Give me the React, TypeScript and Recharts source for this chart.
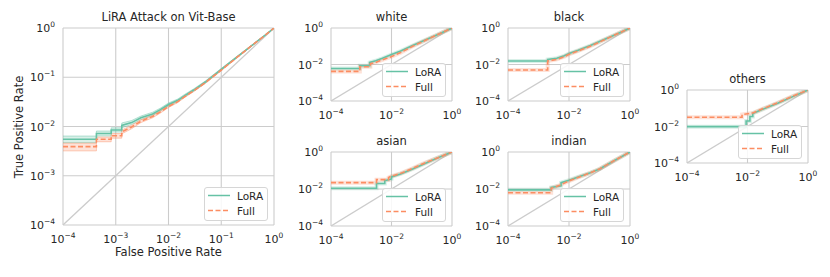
import { ComposedChart, Line, Area, XAxis, YAxis, CartesianGrid } from 'recharts';

const GREEN = '#66c2a5';
const ORANGE = '#fc8d62';
const GRID = '#cccccc';
const TEXT = '#262626';
const FONT = '"DejaVu Sans", Verdana, sans-serif';

// axis ticks
const mainTicks = [1e-4, 1e-3, 1e-2, 1e-1, 1];
const mainTickExp = ['\u22124', '\u22123', '\u22122', '\u22121', '0'];
const smallTicks = [1e-4, 1e-2, 1];
const smallTickExp = ['\u22124', '\u22122', '0'];

// chance line
const diagFpr = [1e-4, 1];
const diagTpr = [1e-4, 1];

// main panel: LiRA on ViT-Base
const mainLoraFpr = [1e-4, 4.3e-4, 4.3e-4, 8.2e-4, 8.2e-4, 1.3e-3, 1.3e-3, 2e-3, 3e-3, 5e-3, 7e-3, 1e-2, 1.5e-2, 2e-2, 3e-2, 5e-2, 0.1, 0.2, 0.4, 0.7, 1];
const mainLoraTpr = [0.0055, 0.0055, 0.0072, 0.0072, 0.0085, 0.0085, 0.0105, 0.012, 0.015, 0.018, 0.022, 0.028, 0.034, 0.042, 0.055, 0.08, 0.145, 0.26, 0.46, 0.73, 1];
const mainLoraLo = [0.0047, 0.0047, 0.0064, 0.0064, 0.0077, 0.0077, 0.0094, 0.011, 0.0138, 0.0166, 0.0205, 0.026, 0.0318, 0.0395, 0.052, 0.076, 0.139, 0.252, 0.45, 0.72, 1];
const mainLoraHi = [0.0064, 0.0064, 0.0081, 0.0081, 0.0094, 0.0094, 0.0118, 0.0132, 0.0163, 0.0195, 0.0236, 0.03, 0.0362, 0.0446, 0.058, 0.084, 0.151, 0.268, 0.47, 0.74, 1];

const mainFullFpr = [1e-4, 4.3e-4, 4.3e-4, 8.2e-4, 8.2e-4, 1.3e-3, 1.3e-3, 2e-3, 3e-3, 5e-3, 7e-3, 1e-2, 1.5e-2, 2e-2, 3e-2, 5e-2, 0.1, 0.2, 0.4, 0.7, 1];
const mainFullTpr = [0.0039, 0.0039, 0.0055, 0.0055, 0.0065, 0.0065, 0.0078, 0.0098, 0.0128, 0.016, 0.0198, 0.0255, 0.032, 0.04, 0.053, 0.078, 0.14, 0.255, 0.46, 0.73, 1];
const mainFullLo = [0.0032, 0.0032, 0.0049, 0.0049, 0.0058, 0.0058, 0.0071, 0.009, 0.012, 0.015, 0.0187, 0.0243, 0.0306, 0.0385, 0.051, 0.075, 0.135, 0.248, 0.45, 0.72, 1];
const mainFullHi = [0.0046, 0.0046, 0.0061, 0.0061, 0.0072, 0.0072, 0.0085, 0.0106, 0.0137, 0.017, 0.021, 0.0268, 0.0334, 0.0415, 0.055, 0.081, 0.145, 0.262, 0.47, 0.74, 1];

// subgroups
const whiteLoraFpr = [1e-4, 9e-4, 9e-4, 1.9e-3, 1.9e-3, 3e-3, 5e-3, 1e-2, 2e-2, 5e-2, 0.1, 0.3, 1];
const whiteLoraTpr = [0.006, 0.006, 0.0085, 0.0085, 0.013, 0.016, 0.022, 0.035, 0.055, 0.11, 0.18, 0.4, 1];
const whiteFullFpr = [1e-4, 9e-4, 9e-4, 2e-3, 2e-3, 3e-3, 5e-3, 1e-2, 2e-2, 5e-2, 0.1, 0.3, 1];
const whiteFullTpr = [0.0042, 0.0042, 0.0075, 0.0075, 0.011, 0.013, 0.018, 0.027, 0.045, 0.1, 0.17, 0.4, 1];

const blackLoraFpr = [1e-4, 2e-3, 2e-3, 4e-3, 7e-3, 1e-2, 2e-2, 5e-2, 0.1, 0.3, 1];
const blackLoraTpr = [0.0155, 0.0155, 0.019, 0.022, 0.03, 0.04, 0.06, 0.11, 0.18, 0.4, 1];
const blackFullFpr = [1e-4, 2e-3, 2e-3, 4e-3, 7e-3, 1e-2, 2e-2, 5e-2, 0.1, 0.3, 1];
const blackFullTpr = [0.005, 0.005, 0.0155, 0.019, 0.027, 0.036, 0.055, 0.1, 0.17, 0.4, 1];

const asianLoraFpr = [1e-4, 3.2e-3, 3.2e-3, 6e-3, 6e-3, 1e-2, 1e-2, 2e-2, 5e-2, 0.1, 0.3, 1];
const asianLoraTpr = [0.011, 0.011, 0.02, 0.02, 0.028, 0.035, 0.045, 0.065, 0.12, 0.2, 0.45, 1];
const asianFullFpr = [1e-4, 3.2e-3, 3.2e-3, 8e-3, 8e-3, 1e-2, 2e-2, 5e-2, 0.1, 0.3, 1];
const asianFullTpr = [0.022, 0.022, 0.032, 0.032, 0.042, 0.05, 0.07, 0.13, 0.22, 0.45, 1];

const indianLoraFpr = [1e-4, 2.6e-3, 2.6e-3, 5.5e-3, 5.5e-3, 1e-2, 2e-2, 5e-2, 0.1, 0.3, 1];
const indianLoraTpr = [0.009, 0.009, 0.012, 0.015, 0.022, 0.03, 0.045, 0.075, 0.12, 0.34, 1];
const indianFullFpr = [1e-4, 2.6e-3, 2.6e-3, 5e-3, 1e-2, 2e-2, 5e-2, 0.1, 0.3, 1];
const indianFullTpr = [0.0063, 0.0063, 0.011, 0.016, 0.027, 0.042, 0.075, 0.12, 0.34, 1];

const othersLoraFpr = [1e-4, 9e-3, 9e-3, 1.2e-2, 1.2e-2, 1.5e-2, 1.5e-2, 3e-2, 0.1, 0.3, 1];
const othersLoraTpr = [0.0098, 0.0098, 0.02, 0.02, 0.035, 0.035, 0.052, 0.085, 0.19, 0.42, 1];
const othersFullFpr = [1e-4, 6.6e-3, 6.6e-3, 1.5e-2, 3e-2, 0.1, 0.3, 1];
const othersFullTpr = [0.032, 0.032, 0.045, 0.055, 0.09, 0.2, 0.45, 1];

type Row = { x: number; y: number; band?: [number, number] };

const toRows = (xs: number[], ys: number[], lo?: number[], hi?: number[]): Row[] =>
  xs.map((x, i) => ({ x, y: ys[i], band: lo && hi ? [lo[i], hi[i]] : undefined }));

const diagRows = toRows(diagFpr, diagTpr);

function makeTick(ticks: number[], exps: string[], axis: 'x' | 'y') {
  return (props: any) => {
    const { x, y, payload } = props;
    const exp = exps[ticks.indexOf(payload.value)] ?? '';
    const isX = axis === 'x';
    return (
      <text
        x={x}
        y={isX ? y + 10 : y + 4}
        textAnchor={isX ? 'middle' : 'end'}
        fill={TEXT}
        fontFamily={FONT}
        fontSize={11}
      >
        <tspan>10</tspan>
        <tspan dy={-5} fontSize={7.5}>{exp}</tspan>
      </text>
    );
  };
}

function LegendBox({ left, top }: { left: number; top: number }) {
  return (
    <div
      style={{
        position: 'absolute',
        left,
        top,
        width: 64,
        height: 34,
        boxSizing: 'border-box',
        border: '1px solid #d6d6d6',
        borderRadius: 3,
        background: 'rgba(255,255,255,0.85)',
      }}
    >
      <svg width={62} height={32} style={{ display: 'block' }}>
        <line x1={3} x2={25} y1={7.5} y2={7.5} stroke={GREEN} strokeWidth={1.5} />
        <text x={32} y={11.5} fontSize={10.5} fontFamily={FONT} fill={TEXT}>LoRA</text>
        <line x1={3} x2={25} y1={22.5} y2={22.5} stroke={ORANGE} strokeWidth={1.5} strokeDasharray="5 2.5" />
        <text x={32} y={26.5} fontSize={10.5} fontFamily={FONT} fill={TEXT}>Full</text>
      </svg>
    </div>
  );
}

function Label({ text, x, y, rotate }: { text: string; x: number; y: number; rotate?: boolean }) {
  return (
    <div
      style={{
        position: 'absolute',
        left: x,
        top: y,
        transform: `translate(-50%, -50%)${rotate ? ' rotate(-90deg)' : ''}`,
        whiteSpace: 'nowrap',
        fontFamily: FONT,
        fontSize: 11.5,
        color: TEXT,
        lineHeight: 1,
      }}
    >
      {text}
    </div>
  );
}

type PanelProps = {
  left: number;
  top: number;
  width: number;
  height: number;
  yAxisW: number;
  xAxisH: number;
  marginTop: number;
  marginRight: number;
  ticks: number[];
  tickExp: string[];
  title: string;
  lora: Row[];
  full: Row[];
  bands?: boolean;
};

function RocPanel(p: PanelProps) {
  const plotLeft = p.yAxisW;
  const plotRight = p.width - p.marginRight;
  const plotTop = p.marginTop;
  const plotBottom = p.height - p.xAxisH;
  return (
    <div style={{ position: 'absolute', left: p.left, top: p.top, width: p.width, height: p.height }}>
      <ComposedChart
        width={p.width}
        height={p.height}
        margin={{ top: p.marginTop, right: p.marginRight, bottom: 0, left: 0 }}
      >
        <CartesianGrid stroke={GRID} strokeWidth={1.1} />
        <XAxis
          dataKey="x"
          type="number"
          scale="log"
          domain={[1e-4, 1]}
          ticks={p.ticks}
          interval={0}
          allowDataOverflow
          axisLine={false}
          tickLine={false}
          height={p.xAxisH}
          tick={makeTick(p.ticks, p.tickExp, 'x')}
        />
        <YAxis
          type="number"
          scale="log"
          domain={[1e-4, 1]}
          ticks={p.ticks}
          interval={0}
          allowDataOverflow
          axisLine={false}
          tickLine={false}
          width={p.yAxisW}
          tick={makeTick(p.ticks, p.tickExp, 'y')}
        />
        <Line data={diagRows} dataKey="y" stroke="#cccccc" strokeWidth={1.3} dot={false} activeDot={false} isAnimationActive={false} />
        {p.bands ? (
          <Area data={p.lora} dataKey="band" type="linear" stroke={GREEN} strokeOpacity={0.55} strokeWidth={0.8} fill={GREEN} fillOpacity={0.25} dot={false} activeDot={false} isAnimationActive={false} />
        ) : (
          <Line data={p.lora} dataKey="y" stroke={GREEN} strokeOpacity={0.25} strokeWidth={4} dot={false} activeDot={false} isAnimationActive={false} />
        )}
        {p.bands ? (
          <Area data={p.full} dataKey="band" type="linear" stroke={ORANGE} strokeOpacity={0.55} strokeWidth={0.8} fill={ORANGE} fillOpacity={0.25} dot={false} activeDot={false} isAnimationActive={false} />
        ) : (
          <Line data={p.full} dataKey="y" stroke={ORANGE} strokeOpacity={0.25} strokeWidth={4} dot={false} activeDot={false} isAnimationActive={false} />
        )}
        <Line data={p.lora} dataKey="y" stroke={GREEN} strokeWidth={1.6} dot={false} activeDot={false} isAnimationActive={false} />
        <Line data={p.full} dataKey="y" stroke={ORANGE} strokeWidth={1.6} strokeDasharray="5 2.5" dot={false} activeDot={false} isAnimationActive={false} />
      </ComposedChart>
      <Label text={p.title} x={(plotLeft + plotRight) / 2} y={plotTop - 10} />
      <LegendBox left={plotRight - 6 - 64} top={plotBottom - 4 - 34} />
    </div>
  );
}

export default function App() {
  const mainLora = toRows(mainLoraFpr, mainLoraTpr, mainLoraLo, mainLoraHi);
  const mainFull = toRows(mainFullFpr, mainFullTpr, mainFullLo, mainFullHi);
  const small = { width: 180, xAxisH: 24, marginTop: 28, ticks: smallTicks, tickExp: smallTickExp };
  return (
    <div style={{ position: 'absolute', left: 0, top: 0, width: 830, height: 277, background: '#fff', overflow: 'hidden' }}>
      <RocPanel
        left={0}
        top={0}
        width={290}
        height={250}
        yAxisW={63}
        xAxisH={25}
        marginTop={28}
        marginRight={16}
        ticks={mainTicks}
        tickExp={mainTickExp}
        title="LiRA Attack on Vit-Base"
        lora={mainLora}
        full={mainFull}
        bands
      />
      <Label text="False Positive Rate" x={168.5} y={253} />
      <Label text="True Positive Rate" x={20} y={127} rotate />

      <RocPanel {...small} left={290} top={0} height={125} yAxisW={41} marginRight={18} title="white"
        lora={toRows(whiteLoraFpr, whiteLoraTpr)} full={toRows(whiteFullFpr, whiteFullTpr)} />
      <RocPanel {...small} left={468} top={0} height={125} yAxisW={40} marginRight={18} title="black"
        lora={toRows(blackLoraFpr, blackLoraTpr)} full={toRows(blackFullFpr, blackFullTpr)} />
      <RocPanel {...small} left={290} top={124} height={126} yAxisW={41} marginRight={18} title="asian"
        lora={toRows(asianLoraFpr, asianLoraTpr)} full={toRows(asianFullFpr, asianFullTpr)} />
      <RocPanel {...small} left={468} top={124} height={126} yAxisW={40} marginRight={18} title="indian"
        lora={toRows(indianLoraFpr, indianLoraTpr)} full={toRows(indianFullFpr, indianFullTpr)} />
      <RocPanel {...small} left={646} top={62} height={125} yAxisW={41} marginRight={18} title="others"
        lora={toRows(othersLoraFpr, othersLoraTpr)} full={toRows(othersFullFpr, othersFullTpr)} />
    </div>
  );
}
